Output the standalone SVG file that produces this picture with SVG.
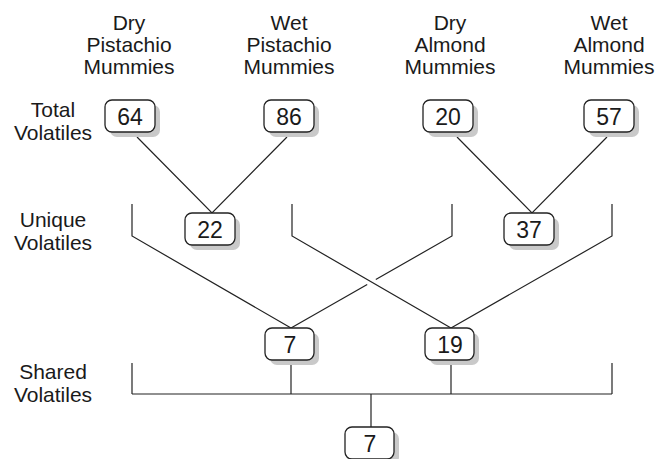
<svg xmlns="http://www.w3.org/2000/svg" width="659" height="459" viewBox="0 0 659 459">
<style>
text{font-family:"Liberation Sans",Arial,sans-serif;fill:#1a1a1a;}
.hdr{font-size:21px;text-anchor:middle;}
.num{font-size:23px;text-anchor:middle;}
.shadow{fill:#c9c9c9;stroke:none;}
.box{fill:#fff;stroke:#222;stroke-width:1.3;}
.conn{fill:none;stroke:#222;stroke-width:1.2;}
</style>
<rect width="659" height="459" fill="#fff"/>
<g id="headers">
<text class="hdr" x="129" y="30">Dry</text>
<text class="hdr" x="129" y="52">Pistachio</text>
<text class="hdr" x="129" y="74">Mummies</text>
<text class="hdr" x="289" y="30">Wet</text>
<text class="hdr" x="289" y="52">Pistachio</text>
<text class="hdr" x="289" y="74">Mummies</text>
<text class="hdr" x="450" y="30">Dry</text>
<text class="hdr" x="450" y="52">Almond</text>
<text class="hdr" x="450" y="74">Mummies</text>
<text class="hdr" x="609" y="30">Wet</text>
<text class="hdr" x="609" y="52">Almond</text>
<text class="hdr" x="609" y="74">Mummies</text>
</g>
<g id="row-labels">
<text class="hdr" x="53" y="117">Total</text>
<text class="hdr" x="53" y="140">Volatiles</text>
<text class="hdr" x="53" y="227">Unique</text>
<text class="hdr" x="53" y="250">Volatiles</text>
<text class="hdr" x="53" y="379">Shared</text>
<text class="hdr" x="53" y="402">Volatiles</text>
</g>
<g id="connectors" class="conn">
<polyline points="137,137 212,213 287,137"/>
<polyline points="457,137 532,213 607,137"/>
<polyline points="132,204 132,236 291,328"/>
<polyline points="292,204 292,236 451,328"/>
<polyline points="452,204 452,236 375.8,279.5"/>
<line x1="367.2" y1="284.5" x2="291" y2="328"/>
<polyline points="612,204 612,236 451,328"/>
<line x1="132" y1="394" x2="612" y2="394"/>
<line x1="132" y1="363" x2="132" y2="394"/>
<line x1="612" y1="363" x2="612" y2="394"/>
<line x1="291" y1="360" x2="291" y2="394"/>
<line x1="451" y1="360" x2="451" y2="394"/>
<line x1="371" y1="394" x2="371" y2="427"/>
</g>
<g id="n64"><rect class="shadow" x="110" y="105" width="50" height="32" rx="7"/><rect class="box" x="105" y="100" width="50" height="32" rx="7"/><text class="num" x="130" y="124.5">64</text></g>
<g id="n86"><rect class="shadow" x="269" y="105" width="50" height="32" rx="7"/><rect class="box" x="264" y="100" width="50" height="32" rx="7"/><text class="num" x="289" y="124.5">86</text></g>
<g id="n20"><rect class="shadow" x="428" y="105" width="50" height="32" rx="7"/><rect class="box" x="423" y="100" width="50" height="32" rx="7"/><text class="num" x="448" y="124.5">20</text></g>
<g id="n57"><rect class="shadow" x="589" y="105" width="50" height="32" rx="7"/><rect class="box" x="584" y="100" width="50" height="32" rx="7"/><text class="num" x="609" y="124.5">57</text></g>
<g id="n22"><rect class="shadow" x="190" y="218" width="50" height="32" rx="7"/><rect class="box" x="185" y="213" width="50" height="32" rx="7"/><text class="num" x="210" y="237.5">22</text></g>
<g id="n37"><rect class="shadow" x="509" y="218" width="50" height="32" rx="7"/><rect class="box" x="504" y="213" width="50" height="32" rx="7"/><text class="num" x="529" y="237.5">37</text></g>
<g id="n7a"><rect class="shadow" x="270" y="333" width="49" height="32" rx="7"/><rect class="box" x="265" y="328" width="49" height="32" rx="7"/><text class="num" x="290" y="352.5">7</text></g>
<g id="n19"><rect class="shadow" x="430" y="333" width="49" height="32" rx="7"/><rect class="box" x="425" y="328" width="49" height="32" rx="7"/><text class="num" x="450" y="352.5">19</text></g>
<g id="n7b"><rect class="shadow" x="350" y="432" width="49" height="32" rx="7"/><rect class="box" x="345" y="427" width="49" height="32" rx="7"/><text class="num" x="370" y="451.5">7</text></g>
</svg>
